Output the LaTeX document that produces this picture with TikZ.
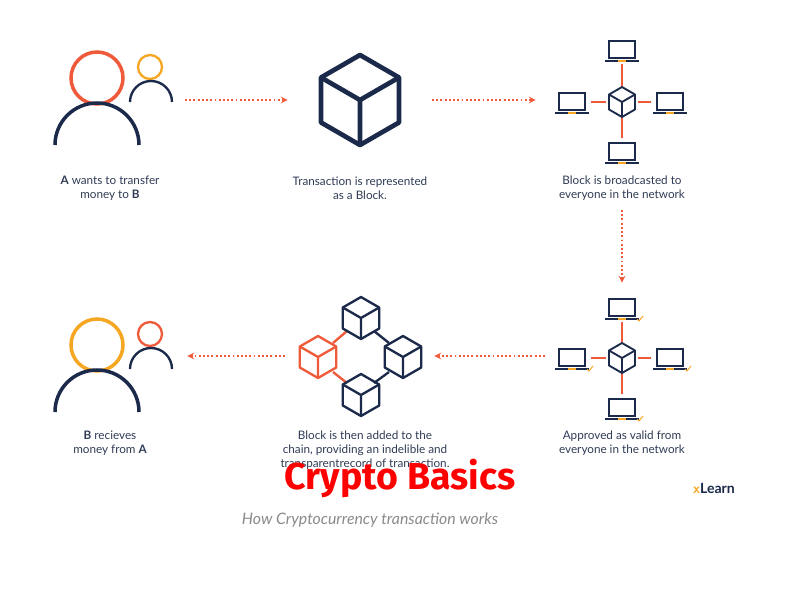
\documentclass[tikz,border=0pt]{standalone}
\usepackage{fontspec}
\setmainfont{Lato}
\newfontfamily\titlefont{Fira Sans}
\usetikzlibrary{positioning, calc}
\definecolor{navy}{HTML}{1B2A4A}
\definecolor{coral}{HTML}{EE5A3A}
\definecolor{amber}{HTML}{F5A623}
\definecolor{greytext}{HTML}{8A8A8A}
\tikzset{
  cube/.pic={
    \draw[line join=round] (90:#1) -- (30:#1) -- (-30:#1) -- (-90:#1) -- (-150:#1) -- (150:#1) -- cycle;
    \draw (0,0) -- (210:#1) (0,0) -- (330:#1) (0,0) -- (90:#1);
  },
  laptop/.pic={
    \draw[navy, line width=1.1pt] (-13,-9) rectangle (13,8);
    \draw[navy, line width=1.1pt] (-17,11) -- (17,11);
    \draw[amber, line width=0.9pt] (-4,11) -- (4,11);
  },
  tick/.pic={
    \draw[amber, line width=0.8pt] (0,0) -- (2,2) -- (6,-3);
  },
  hop/.style={->, >=stealth, coral, line width=1.6pt, dotted, shorten >=2pt},
  caption/.style={align=center, font=\fontsize{10}{12}\selectfont, text=navy!80!gray},
  link/.style={coral, line width=1.2pt}
}
\begin{document}
\begin{tikzpicture}[x=0.03cm, y=-0.03cm]
  \useasboundingbox (0,0) rectangle (800,589);
  % sender and receiver (top row)
  \draw[coral, line width=3pt] (97,78) circle (26);
  \draw[navy, line width=3pt] (55,145) arc (180:360:42);
  \draw[amber, line width=2pt] (150,67) circle (12);
  \draw[navy, line width=2pt] (130,102) arc (180:360:21);
  \coordinate (people1) at (185,100);
  % block
  \pic[navy, line width=4pt] at (360,100) {cube=45};
  \coordinate (blockL) at (290,100);
  \coordinate (blockR) at (432,100);
  % broadcast network
  \foreach \name/\px/\py in {n/622/50, w/572/102, e/670/102, s/622/152}
    \coordinate (top\name) at (\px,\py);
  \draw[link] (topn) ++(0,14) -- (622,86) (tops) ++(0,-14) -- (622,118)
              (topw) ++(19,0) -- (606,102) (tope) ++(-19,0) -- (638,102);
  \pic[navy, line width=1.6pt] (topcube) at (622,102) {cube=15};
  \foreach \name in {n,w,e,s} \pic at (top\name) {laptop};
  \coordinate (net1) at (538,100);
  \coordinate (net1S) at (622,210);
  % approved network
  \foreach \name/\px/\py in {n/622/308, w/572/358, e/670/358, s/622/408}
    \coordinate (bot\name) at (\px,\py);
  \draw[link] (botn) ++(0,14) -- (622,342) (bots) ++(0,-14) -- (622,374)
              (botw) ++(19,0) -- (606,358) (bote) ++(-19,0) -- (638,358);
  \pic[navy, line width=1.6pt] at (622,358) {cube=15};
  \foreach \name in {n,w,e,s} {\pic at (bot\name) {laptop}; \pic at ($(bot\name)+(15,11)$) {tick};}
  \coordinate (net2N) at (622,285);
  \coordinate (net2W) at (545,356);
  % chain
  \draw[link, line width=2pt] (333,343) -- (347,331) (333,372) -- (347,383);
  \draw[navy, line width=2pt] (374,331) -- (389,343) (389,372) -- (374,383);
  \pic[navy, line width=2pt] at (361,318) {cube=21};
  \pic[navy, line width=2pt] at (403,357) {cube=21};
  \pic[navy, line width=2pt] at (361,395) {cube=21};
  \pic[coral, line width=2pt] at (318,357) {cube=21};
  \coordinate (chainR) at (432,356);
  \coordinate (chainL) at (285,356);
  % receiver (bottom row)
  \draw[amber, line width=3pt] (97,345) circle (26);
  \draw[navy, line width=3pt] (55,412) arc (180:360:42);
  \draw[coral, line width=2pt] (150,334) circle (12);
  \draw[navy, line width=2pt] (130,369) arc (180:360:21);
  \coordinate (people2) at (185,356);
  % flow
  \draw[hop] (people1) -- (blockL);
  \draw[hop] (blockR) -- (net1);
  \draw[hop] (net1S) -- (net2N);
  \draw[hop] (net2W) -- (chainR);
  \draw[hop] (chainL) -- (people2);
  % captions
  \node[caption] (capA) at (110,188) {\textbf{A} wants to transfer\\money to \textbf{B}};
  \node[caption] (capBlock) at (360,188) {Transaction is represented\\as a Block.};
  \node[caption] (capNet) at (622,188) {Block is broadcasted to\\everyone in the network};
  \node[caption] (capB) at (110,443) {\textbf{B} recieves\\money from \textbf{A}};
  \node[caption] (capChain) at (365,450) {Block is then added to the\\chain, providing an indelible and\\transparentrecord of transaction.};
  \node[caption] (capOk) at (622,443) {Approved as valid from\\everyone in the network};
  \node[font=\titlefont\bfseries\fontsize{32}{34}\selectfont, text=red] (title) at (400,478) {Crypto Basics};
  \node[font=\bfseries\fontsize{12}{13}\selectfont, text=navy] (logo) at (714,488) {\textcolor{amber}{\textsf{x}}Learn};
  \node[font=\itshape\fontsize{13.5}{15}\selectfont, text=greytext] (sub) at (370,520) {How Cryptocurrency transaction works};
\end{tikzpicture}
\end{document}
